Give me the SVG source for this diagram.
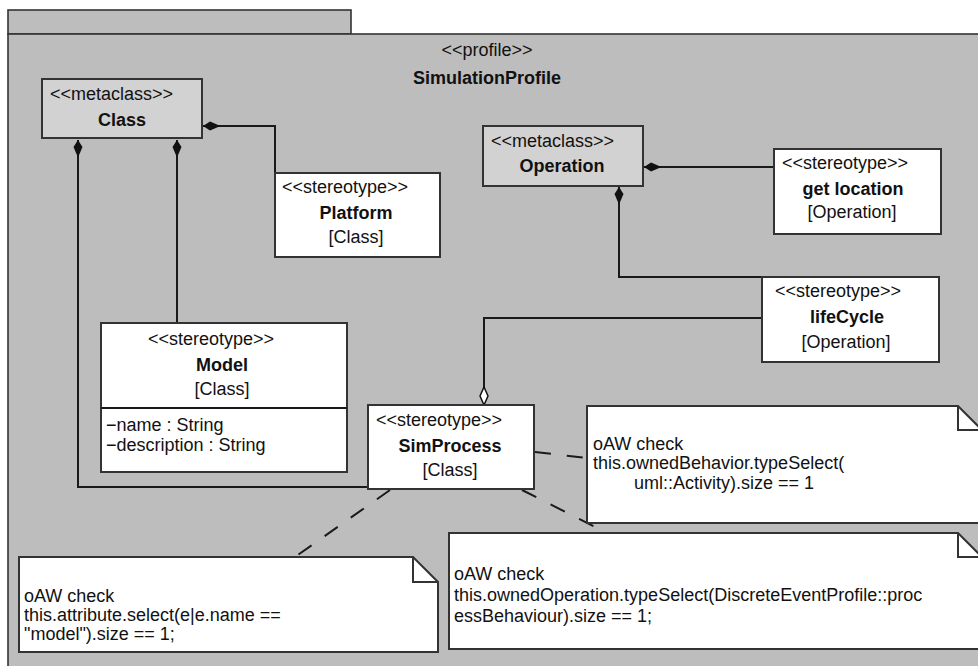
<svg xmlns="http://www.w3.org/2000/svg" width="978" height="666" viewBox="0 0 978 666">
  <defs>
    <style>
      text { font-family: "Liberation Sans", Arial, sans-serif; font-size: 18px; fill: #111; }
      .b { font-weight: bold; }
      .c { text-anchor: middle; }
      .pkg { fill: #bdbdbd; stroke: #333; stroke-width: 1.6; }
      .meta { fill: #d2d2d2; stroke: #333; stroke-width: 2; }
      .box { fill: #fff; stroke: #333; stroke-width: 2; }
      .note { fill: #fff; stroke: #333; stroke-width: 2; stroke-linejoin: miter; }
      .fold { fill: none; stroke: #333; stroke-width: 2; }
      .line { fill: none; stroke: #1a1a1a; stroke-width: 2; }
      .dash { fill: none; stroke: #1a1a1a; stroke-width: 2; stroke-dasharray: 16 16; }
    </style>
    <!-- filled extension head, tip at the line end -->
    <marker id="ext" viewBox="0 0 18 10" refX="17.5" refY="5" markerWidth="18" markerHeight="10" markerUnits="userSpaceOnUse" orient="auto">
      <path d="M17.5,5 L10.5,0.5 L0,5 L10.5,9.5 Z" fill="#111"/>
    </marker>
    <!-- hollow aggregation diamond -->
    <marker id="agg" viewBox="0 0 20 10" refX="19" refY="5" markerWidth="20" markerHeight="10" markerUnits="userSpaceOnUse" orient="auto">
      <path d="M1,5 L10,1 L19,5 L10,9 Z" fill="#fff" stroke="#111" stroke-width="1.5"/>
    </marker>
  </defs>

  <!-- package frame -->
  <g id="SimulationProfile">
    <rect class="pkg" x="8" y="10" width="343" height="24"/>
    <rect class="pkg" x="8" y="34" width="980" height="640"/>
    <text class="c" x="487" y="56">&lt;&lt;profile&gt;&gt;</text>
    <text class="c b" x="487" y="84">SimulationProfile</text>
  </g>

  <!-- connectors -->
  <g id="connectors">
    <path class="line" d="M275,173 V126 H203" marker-end="url(#ext)"/>
    <path class="line" d="M177,323 V140" marker-end="url(#ext)"/>
    <path class="line" d="M368,487 H78 V140" marker-end="url(#ext)"/>
    <path class="line" d="M774,167 H644" marker-end="url(#ext)"/>
    <path class="line" d="M762,277 H619 V187" marker-end="url(#ext)"/>
    <path class="line" d="M762,318 H484 V405" marker-end="url(#agg)"/>
    <path class="dash" d="M535,452 L587,458"/>
    <path class="dash" d="M390,490 L295,557"/>
    <path class="dash" d="M522,490 L607,533"/>
  </g>

  <g id="Class">
    <rect class="meta" x="42" y="79" width="160" height="59"/>
    <text x="50" y="100">&lt;&lt;metaclass&gt;&gt;</text>
    <text class="c b" x="122" y="126">Class</text>
  </g>

  <g id="Platform">
    <rect class="box" x="275" y="173" width="165" height="84"/>
    <text x="282" y="193">&lt;&lt;stereotype&gt;&gt;</text>
    <text class="c b" x="356" y="219">Platform</text>
    <text class="c" x="356" y="243">[Class]</text>
  </g>

  <g id="Operation">
    <rect class="meta" x="483" y="126" width="160" height="60"/>
    <text x="491" y="147">&lt;&lt;metaclass&gt;&gt;</text>
    <text class="c b" x="562" y="172">Operation</text>
  </g>

  <g id="getLocation">
    <rect class="box" x="774" y="149" width="167" height="85"/>
    <text x="782" y="169">&lt;&lt;stereotype&gt;&gt;</text>
    <text class="c b" x="853" y="195">get location</text>
    <text class="c" x="852" y="218">[Operation]</text>
  </g>

  <g id="lifeCycle">
    <rect class="box" x="762" y="277" width="177" height="85"/>
    <text x="775" y="297">&lt;&lt;stereotype&gt;&gt;</text>
    <text class="c b" x="847" y="323">lifeCycle</text>
    <text class="c" x="846" y="348">[Operation]</text>
  </g>

  <g id="Model">
    <rect class="box" x="101" y="323" width="246" height="149"/>
    <line class="line" x1="101" y1="408" x2="347" y2="408"/>
    <text x="148" y="345">&lt;&lt;stereotype&gt;&gt;</text>
    <text class="c b" x="222" y="371">Model</text>
    <text class="c" x="222" y="395">[Class]</text>
    <text x="106" y="431">−name : String</text>
    <text x="106" y="451">−description : String</text>
  </g>

  <g id="SimProcess">
    <rect class="box" x="368" y="405" width="166" height="84"/>
    <text x="376" y="426">&lt;&lt;stereotype&gt;&gt;</text>
    <text class="c b" x="450" y="452">SimProcess</text>
    <text class="c" x="450" y="476">[Class]</text>
  </g>

  <g id="noteBehavior">
    <path class="note" d="M587,406 H958 L982,430 V523 H587 Z"/>
    <path class="fold" d="M958,406 V430 H982"/>
    <text x="593" y="450">oAW check</text>
    <text x="593" y="469">this.ownedBehavior.typeSelect(</text>
    <text x="634" y="489">uml::Activity).size == 1</text>
  </g>

  <g id="noteOperation">
    <path class="note" d="M449,533 H958 L982,557 V649 H449 Z"/>
    <path class="fold" d="M958,533 V557 H982"/>
    <text x="454" y="580">oAW check</text>
    <text x="454" y="601">this.ownedOperation.typeSelect(DiscreteEventProfile::proc</text>
    <text x="454" y="622">essBehaviour).size == 1;</text>
  </g>

  <g id="noteAttribute">
    <path class="note" d="M19,557 H413 L438,582 V652 H19 Z"/>
    <path class="fold" d="M413,557 V582 H438"/>
    <text x="24" y="602">oAW check</text>
    <text x="24" y="621">this.attribute.select(e|e.name ==</text>
    <text x="24" y="640">"model").size == 1;</text>
  </g>
</svg>
